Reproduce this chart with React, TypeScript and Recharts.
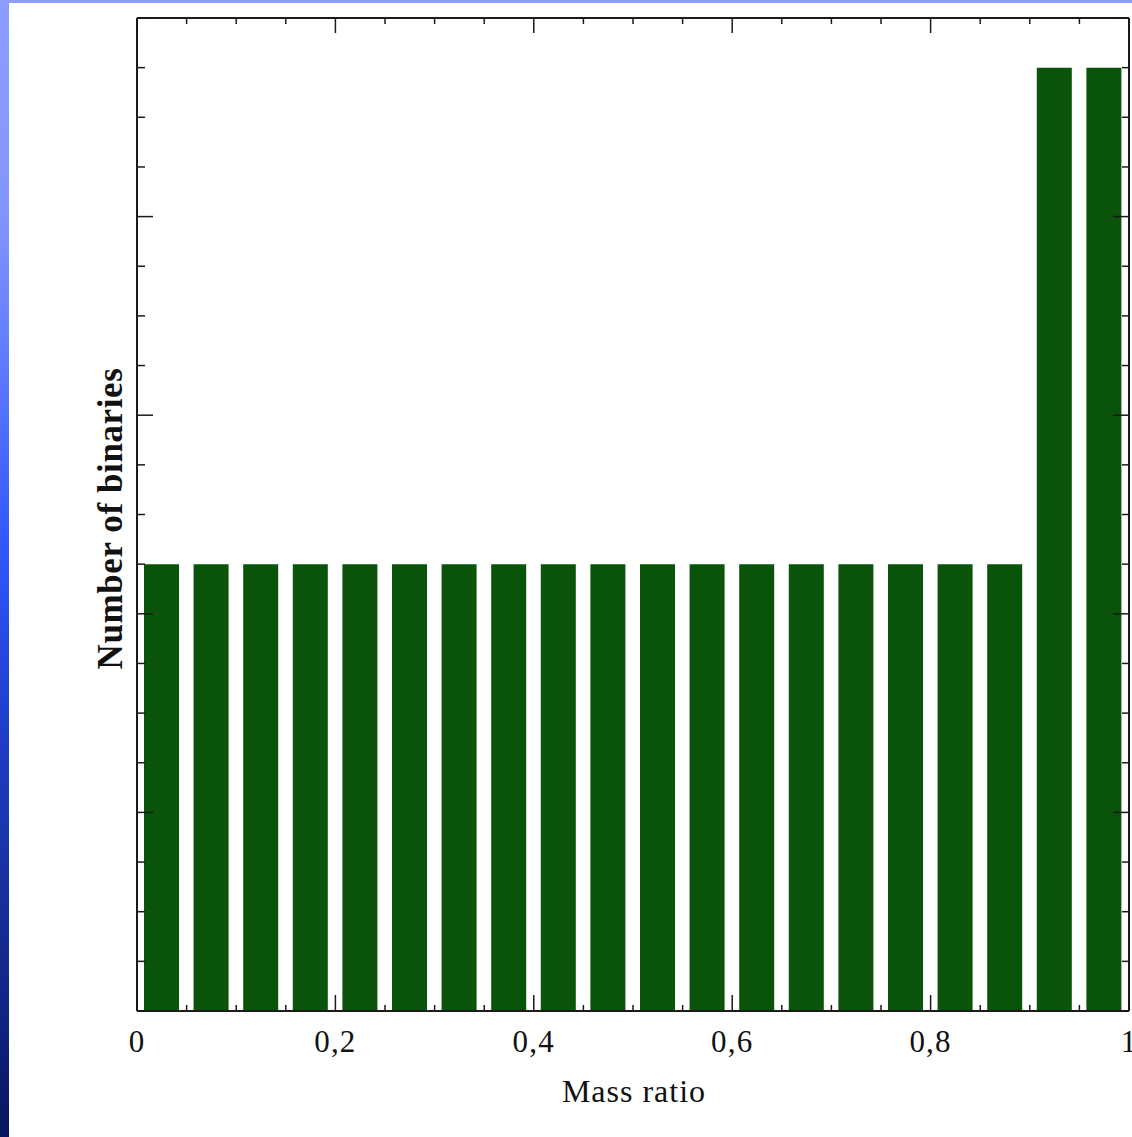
import React from 'react';
import { ComposedChart, Bar, XAxis, YAxis, Label } from 'recharts';

// Histogram bins (centre of each 0.05-wide mass-ratio bin)
const binCenters = [
  0.025, 0.075, 0.125, 0.175, 0.225, 0.275, 0.325, 0.375, 0.425, 0.475,
  0.525, 0.575, 0.625, 0.675, 0.725, 0.775, 0.825, 0.875, 0.925, 0.975,
];
// Number of binaries in each bin
const counts = [9, 9, 9, 9, 9, 9, 9, 9, 9, 9, 9, 9, 9, 9, 9, 9, 9, 9, 19, 19];

const xMajorTicks = [0, 0.2, 0.4, 0.6, 0.8, 1];
const xMajorLabels = ['0', '0,2', '0,4', '0,6', '0,8', '1'];
const xAllTicks = [
  0, 0.05, 0.1, 0.15, 0.2, 0.25, 0.3, 0.35, 0.4, 0.45, 0.5,
  0.55, 0.6, 0.65, 0.7, 0.75, 0.8, 0.85, 0.9, 0.95, 1,
];
const yMajorTicks = [0, 4, 8, 12, 16, 20];
const yAllTicks = [0, 1, 2, 3, 4, 5, 6, 7, 8, 9, 10, 11, 12, 13, 14, 15, 16, 17, 18, 19, 20];

const xTitle = 'Mass ratio';
const yTitle = 'Number of binaries';

const data = binCenters.map((x, i) => ({ x, count: counts[i] }));

const FONT = "'Liberation Serif', 'Times New Roman', serif";
const AXIS_COLOR = '#1a1a1a';
const BAR_COLOR = '#0a530a';

const isMajor = (v: number, majors: number[]) => majors.some((m) => Math.abs(m - v) < 1e-9);

const BottomTick = (props: any) => {
  const { x, y, payload } = props;
  const v = payload.value;
  const major = isMajor(v, xMajorTicks);
  const idx = xMajorTicks.findIndex((m) => Math.abs(m - v) < 1e-9);
  return (
    <g>
      <line x1={x} y1={y} x2={x} y2={y - (major ? 16 : 6)} stroke={AXIS_COLOR} strokeWidth={1.5} />
      {major && (
        <text x={x} y={y + 41} textAnchor="middle" fontFamily={FONT} fontSize={31} letterSpacing={1.2} fill="#111">
          {xMajorLabels[idx]}
        </text>
      )}
    </g>
  );
};

const TopTick = (props: any) => {
  const { x, y, payload } = props;
  const major = isMajor(payload.value, xMajorTicks);
  return <line x1={x} y1={y} x2={x} y2={y + (major ? 15 : 6)} stroke={AXIS_COLOR} strokeWidth={1.5} />;
};

const LeftTick = (props: any) => {
  const { x, y, payload } = props;
  const major = isMajor(payload.value, yMajorTicks);
  return <line x1={x} y1={y} x2={x + (major ? 16 : 8)} y2={y} stroke={AXIS_COLOR} strokeWidth={1.5} />;
};

const RightTick = (props: any) => {
  const { x, y, payload } = props;
  const major = isMajor(payload.value, yMajorTicks);
  return <line x1={x} y1={y} x2={x - (major ? 16 : 7)} y2={y} stroke={AXIS_COLOR} strokeWidth={1.5} />;
};

const XTitle = (props: any) => {
  const vb = props.viewBox || { x: 137, y: 1011, width: 992, height: 1 };
  return (
    <text x={vb.x + vb.width / 2 + 1} y={1011 + 91} textAnchor="middle" fontFamily={FONT} fontSize={32} letterSpacing={1} fill="#111">
      {xTitle}
    </text>
  );
};

const YTitle = (props: any) => {
  const vb = props.viewBox || { x: 136, y: 18, width: 1, height: 993 };
  const cx = vb.x + vb.width - 15;
  const cy = vb.y + vb.height / 2 + 4;
  return (
    <text
      x={cx}
      y={cy}
      transform={`rotate(-90 ${cx} ${cy})`}
      textAnchor="middle"
      fontFamily={FONT}
      fontWeight="bold"
      fontSize={35}
      letterSpacing={0.6}
      fill="#111"
    >
      {yTitle}
    </text>
  );
};

export default function App() {
  return (
    <div
      style={{
        position: 'absolute',
        left: 0,
        top: 0,
        width: 1132,
        height: 1137,
        overflow: 'hidden',
        background: 'linear-gradient(to bottom, #8c9dff 0%, #8496ff 18%, #5c78ff 33%, #3058ff 48%, #2040d0 62%, #18309f 78%, #0f2380 90%, #08165e 100%)',
      }}
    >
      <div style={{ position: 'absolute', left: 9, top: 3, width: 1123, height: 1134, background: '#ffffff' }} />
      <div style={{ position: 'absolute', left: 0, top: 0 }}>
        <ComposedChart
          width={1132}
          height={1137}
          data={data}
          margin={{ top: 17, right: 2, bottom: 125, left: 136 }}
        >
          <XAxis
            xAxisId="bottom"
            dataKey="x"
            type="number"
            domain={[0, 1]}
            ticks={xAllTicks}
            interval={0}
            orientation="bottom"
            height={1}
            tickSize={0}
            tickMargin={0}
            tickLine={false}
            axisLine={{ stroke: AXIS_COLOR, strokeWidth: 2 }}
            tick={<BottomTick />}
            allowDataOverflow
          >
            <Label content={<XTitle />} />
          </XAxis>
          <XAxis
            xAxisId="top"
            dataKey="x"
            type="number"
            domain={[0, 1]}
            ticks={xAllTicks}
            interval={0}
            orientation="top"
            height={1}
            tickSize={0}
            tickMargin={0}
            tickLine={false}
            axisLine={{ stroke: AXIS_COLOR, strokeWidth: 2 }}
            tick={<TopTick />}
            allowDataOverflow
          />
          <YAxis
            yAxisId="left"
            type="number"
            domain={[0, 20]}
            ticks={yAllTicks}
            interval={0}
            orientation="left"
            width={1}
            tickSize={0}
            tickMargin={0}
            tickLine={false}
            axisLine={{ stroke: AXIS_COLOR, strokeWidth: 2 }}
            tick={<LeftTick />}
            allowDataOverflow
          >
            <Label content={<YTitle />} />
          </YAxis>
          <YAxis
            yAxisId="right"
            type="number"
            domain={[0, 20]}
            ticks={yAllTicks}
            interval={0}
            orientation="right"
            width={1}
            tickSize={0}
            tickMargin={0}
            tickLine={false}
            axisLine={{ stroke: AXIS_COLOR, strokeWidth: 2 }}
            tick={<RightTick />}
            allowDataOverflow
          />
          <Bar
            xAxisId="bottom"
            yAxisId="left"
            dataKey="count"
            fill={BAR_COLOR}
            barSize={35}
            isAnimationActive={false}
          />
        </ComposedChart>
      </div>
    </div>
  );
}
